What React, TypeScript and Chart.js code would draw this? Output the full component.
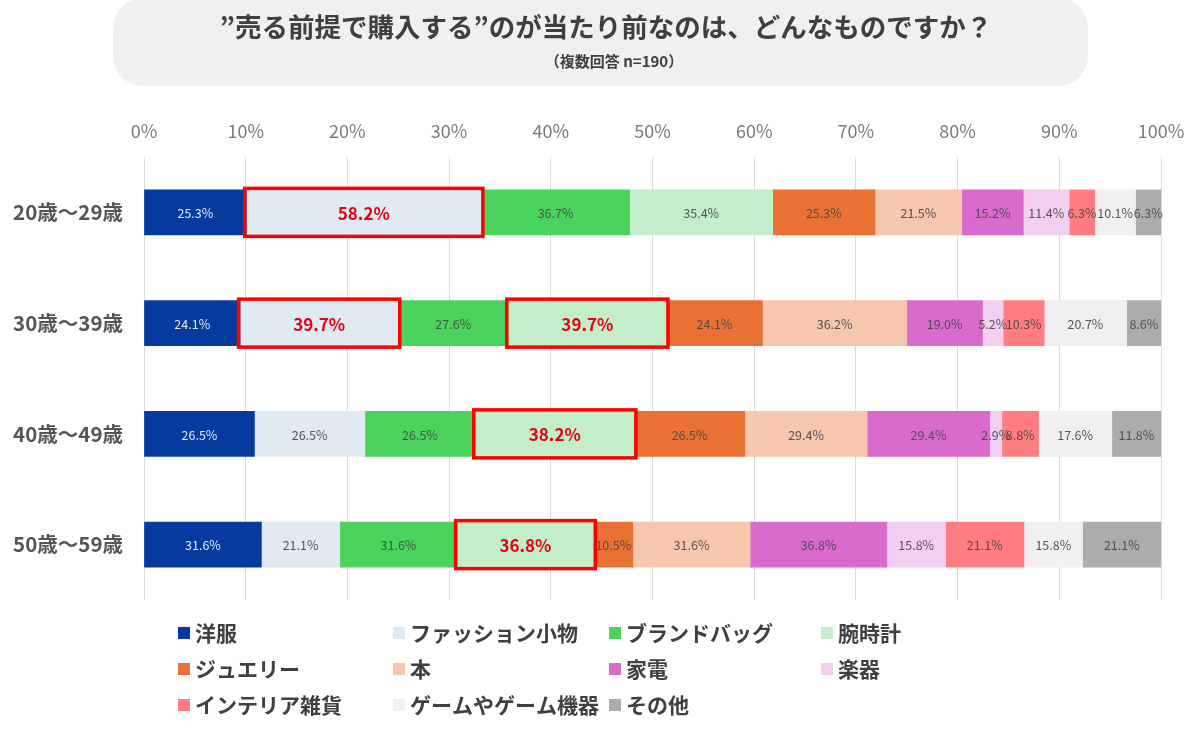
import React, { useEffect, useRef } from "react";
import { Chart, registerables } from "chart.js";

Chart.register(...registerables);

const FONT = '"Noto Sans CJK JP", "Noto Sans", sans-serif';

const titleText = "”売る前提で購入する”のが当たり前なのは、どんなものですか？";
const subtitleText = "（複数回答 n=190）";

const categories = ["20歳～29歳", "30歳～39歳", "40歳～49歳", "50歳～59歳"];

const seriesNames = [
  "洋服",
  "ファッション小物",
  "ブランドバッグ",
  "腕時計",
  "ジュエリー",
  "本",
  "家電",
  "楽器",
  "インテリア雑貨",
  "ゲームやゲーム機器",
  "その他",
];

const seriesColors = [
  "#073a9f",
  "#dfeaf3",
  "#4bd35d",
  "#c2efc9",
  "#e97133",
  "#f6c6ad",
  "#d86bcc",
  "#f2cfee",
  "#ff7c80",
  "#f1eff0",
  "#adabab",
];

// Raw percentages per age group (multiple answers)
const values20s = [25.3, 58.2, 36.7, 35.4, 25.3, 21.5, 15.2, 11.4, 6.3, 10.1, 6.3];
const values30s = [24.1, 39.7, 27.6, 39.7, 24.1, 36.2, 19.0, 5.2, 10.3, 20.7, 8.6];
const values40s = [26.5, 26.5, 26.5, 38.2, 26.5, 29.4, 29.4, 2.9, 8.8, 17.6, 11.8];
const values50s = [31.6, 21.1, 31.6, 36.8, 10.5, 31.6, 36.8, 15.8, 21.1, 15.8, 21.1];

const rows = [values20s, values30s, values40s, values50s];

const xTicks = [0, 10, 20, 30, 40, 50, 60, 70, 80, 90, 100];

// [category index, series index] highlighted with red boxes
const highlights: [number, number][] = [
  [0, 1],
  [1, 1],
  [1, 3],
  [2, 3],
  [3, 3],
];

const legendColumns = [178, 393, 609, 821];
const legendRows = [633, 669, 705];

function isHighlighted(ci: number, si: number) {
  return highlights.some(([c, s]) => c === ci && s === si);
}

const titlePlugin = {
  id: "titleBox",
  beforeDraw(chart: any) {
    const ctx = chart.ctx;
    ctx.save();
    ctx.fillStyle = "#f0eff1";
    ctx.beginPath();
    (ctx as any).roundRect(113, -2, 975, 88, 30);
    ctx.fill();
    ctx.fillStyle = "#3f3f3f";
    ctx.textAlign = "center";
    ctx.textBaseline = "middle";
    ctx.font = `bold 26.5px ${FONT}`;
    ctx.fillText(titleText, 606, 27);
    ctx.font = `bold 15px ${FONT}`;
    ctx.fillText(subtitleText, 614, 61);
    ctx.restore();
  },
};

const labelPlugin = {
  id: "segLabels",
  afterDatasetsDraw(chart: any) {
    const ctx = chart.ctx;
    ctx.save();
    ctx.textAlign = "center";
    ctx.textBaseline = "middle";
    chart.data.datasets.forEach((ds: any, si: number) => {
      const meta = chart.getDatasetMeta(si);
      meta.data.forEach((bar: any, ci: number) => {
        const p = bar.getProps(["x", "y", "base", "height"], true);
        const cx = (p.x + p.base) / 2;
        const raw = ds.raw[ci];
        const txt = raw.toFixed(1) + "%";
        if (isHighlighted(ci, si)) {
          ctx.font = `bold 17px ${FONT}`;
          ctx.fillStyle = "#e60012";
        } else {
          ctx.font = `12.5px ${FONT}`;
          ctx.fillStyle = si === 0 ? "#e4e9f4" : "rgba(70,70,70,0.9)";
        }
        ctx.fillText(txt, cx, p.y + 1);
      });
    });
    // red boxes
    ctx.strokeStyle = "#ff0000";
    ctx.lineWidth = 3.5;
    highlights.forEach(([ci, si]) => {
      const bar: any = chart.getDatasetMeta(si).data[ci];
      const p = bar.getProps(["x", "y", "base", "height"], true);
      const left = Math.min(p.x, p.base);
      const w = Math.abs(p.x - p.base);
      ctx.strokeRect(left - 1.5, p.y - p.height / 2 - 1.5, w + 3, p.height + 3);
    });
    ctx.restore();
  },
};

const legendPlugin = {
  id: "gridLegend",
  afterDraw(chart: any) {
    const ctx = chart.ctx;
    ctx.save();
    ctx.textAlign = "left";
    ctx.textBaseline = "middle";
    ctx.font = `bold 21px ${FONT}`;
    seriesNames.forEach((name, i) => {
      const col = i % 4;
      const row = Math.floor(i / 4);
      const x = legendColumns[col];
      const y = legendRows[row];
      ctx.fillStyle = seriesColors[i];
      ctx.fillRect(x, y - 6, 12, 12);
      ctx.fillStyle = "#404040";
      ctx.fillText(name, x + 17, y);
    });
    ctx.restore();
  },
};

export default function App() {
  const ref = useRef<HTMLCanvasElement | null>(null);

  useEffect(() => {
    if (!ref.current) return;
    const sums = rows.map((r) => r.reduce((a, b) => a + b, 0));
    const datasets = seriesNames.map((name, si) => ({
      label: name,
      data: rows.map((r, ci) => (r[si] / sums[ci]) * 100),
      raw: rows.map((r) => r[si]),
      backgroundColor: seriesColors[si],
      borderWidth: 0,
      barThickness: 45,
    }));

    const chart = new Chart(ref.current, {
      type: "bar",
      data: { labels: categories, datasets: datasets as any },
      options: {
        indexAxis: "y",
        responsive: false,
        animation: false,
        layout: { padding: { top: 100, right: 39, bottom: 132, left: 0 } },
        plugins: {
          legend: { display: false },
          tooltip: { enabled: false },
          title: { display: false },
        },
        scales: {
          x: {
            stacked: true,
            position: "top",
            min: 0,
            max: 100,
            afterFit: (s: any) => {
              s.height = 57;
            },
            afterBuildTicks: (s: any) => {
              s.ticks = xTicks.map((v) => ({ value: v }));
            },
            ticks: {
              callback: (v: any) => v + "%",
              font: { size: 18, family: FONT },
              color: "#7a7a7a",
              padding: 15,
            },
            grid: { color: "#dcdcdc", drawTicks: false, lineWidth: 1 },
            border: { display: false },
          },
          y: {
            stacked: true,
            afterFit: (s: any) => {
              s.width = 144;
            },
            ticks: {
              font: { size: 20.5, weight: "bold", family: FONT },
              color: "#555555",
              padding: 21,
            },
            grid: { display: false, drawTicks: false },
            border: { display: false },
          },
        },
      },
      plugins: [titlePlugin, labelPlugin, legendPlugin],
    });
    return () => chart.destroy();
  }, []);

  return (
    <div style={{ position: "fixed", left: 0, top: 0, width: 1200, height: 732, background: "#fff" }}>
      <canvas ref={ref} width={1200} height={732} style={{ display: "block" }} />
    </div>
  );
}
